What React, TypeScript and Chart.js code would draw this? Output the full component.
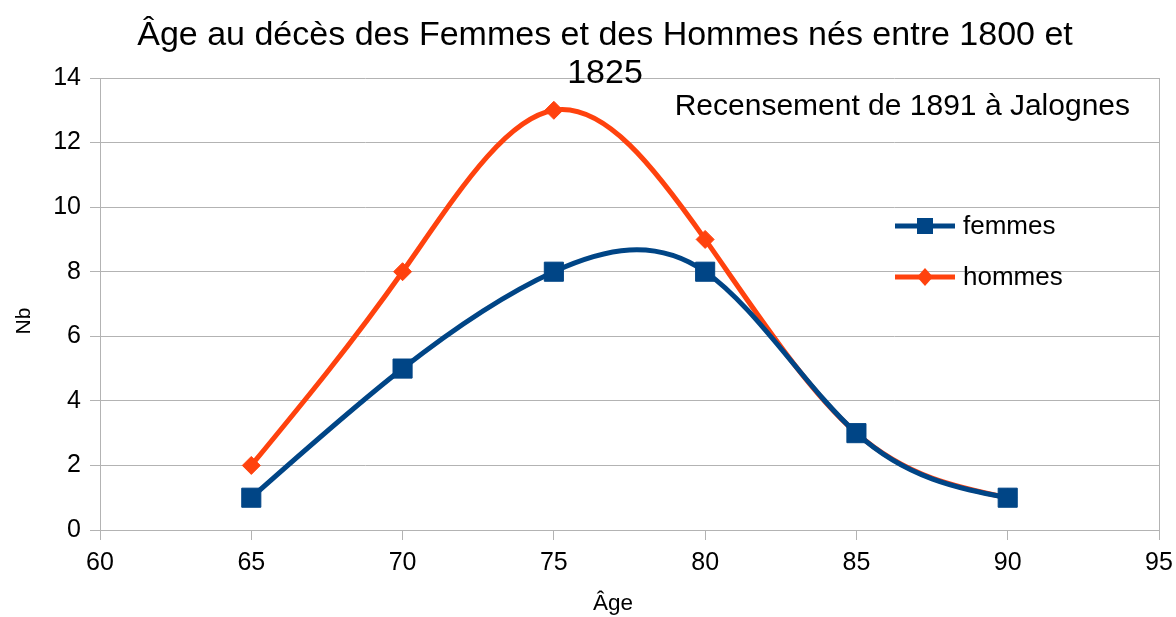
import React, { useEffect, useRef } from "react";
import { Chart, registerables } from "chart.js";

Chart.register(...registerables);

const ages = [65, 70, 75, 80, 85, 90];
const femmes = [1, 5, 8, 8, 3, 1];
const hommes = [2, 8, 13, 9, 3, 1];
const seriesNames = ["femmes", "hommes"];
const titleLines = ["Âge au décès des Femmes et des Hommes nés entre 1800 et", "1825"];
const subtitle = "Recensement de 1891 à Jalognes";
const xTitle = "Âge";
const yTitle = "Nb";
const xMin = 60;
const xMax = 95;
const xStep = 5;
const yMin = 0;
const yMax = 14;
const yStep = 2;

const FONT = '"Liberation Sans", Arial, sans-serif';
const BLUE = "#004586";
const ORANGE = "#ff420e";
const GRID = "#b3b3b3";

// Natural cubic spline (like the office-suite "cubic spline" smoothing),
// computed from the pixel positions that the chart's scales give to the points.
const splinePlugin = {
  id: "naturalSpline",
  beforeDatasetDraw(chart: any, args: any) {
    const meta = chart.getDatasetMeta(args.index);
    const line = meta.dataset;
    const pts = meta.data;
    const n = pts.length;
    if (!line || n < 3) return;
    const xs = pts.map((p: any) => p.x);
    const ys = pts.map((p: any) => p.y);
    const h: number[] = [];
    for (let i = 0; i < n - 1; i++) h[i] = xs[i + 1] - xs[i];
    const a: number[] = [];
    const b: number[] = [];
    const c: number[] = [];
    const d: number[] = [];
    for (let i = 1; i < n - 1; i++) {
      a.push(h[i - 1]);
      b.push(2 * (h[i - 1] + h[i]));
      c.push(h[i]);
      d.push(6 * ((ys[i + 1] - ys[i]) / h[i] - (ys[i] - ys[i - 1]) / h[i - 1]));
    }
    const m = n - 2;
    for (let i = 1; i < m; i++) {
      const w = a[i] / b[i - 1];
      b[i] -= w * c[i - 1];
      d[i] -= w * d[i - 1];
    }
    const M = new Array(n).fill(0);
    for (let i = m - 1; i >= 0; i--) {
      M[i + 1] = (d[i] - (i < m - 1 ? c[i] * M[i + 2] : 0)) / b[i];
    }
    for (let i = 0; i < n - 1; i++) {
      const s = (ys[i + 1] - ys[i]) / h[i];
      const dL = s - (h[i] * (2 * M[i] + M[i + 1])) / 6;
      const dR = s + (h[i] * (M[i] + 2 * M[i + 1])) / 6;
      pts[i].cp2x = xs[i] + h[i] / 3;
      pts[i].cp2y = ys[i] + (dL * h[i]) / 3;
      pts[i + 1].cp1x = xs[i + 1] - h[i] / 3;
      pts[i + 1].cp1y = ys[i + 1] - (dR * h[i]) / 3;
    }
    pts[0].cp1x = xs[0];
    pts[0].cp1y = ys[0];
    pts[n - 1].cp2x = xs[n - 1];
    pts[n - 1].cp2y = ys[n - 1];
    line._pointsUpdated = true;
    line._path = undefined;
  },
};

const overlayPlugin = {
  id: "overlay",
  afterDraw(chart: any) {
    const ctx = chart.ctx as CanvasRenderingContext2D;
    ctx.save();
    ctx.fillStyle = "#000";
    ctx.textAlign = "center";
    ctx.textBaseline = "alphabetic";
    ctx.font = `34px ${FONT}`;
    ctx.fillText(titleLines[0], 605, 45);
    ctx.fillText(titleLines[1], 605, 83);

    ctx.font = `30px ${FONT}`;
    ctx.textAlign = "right";
    ctx.fillText(subtitle, 1130, 115);

    // axis titles
    ctx.textAlign = "center";
    ctx.font = `22.5px ${FONT}`;
    ctx.fillText(xTitle, 613, 610);
    ctx.save();
    ctx.translate(30, 321);
    ctx.rotate(-Math.PI / 2);
    ctx.font = `21px ${FONT}`;
    ctx.fillText(yTitle, 0, 0);
    ctx.restore();

    // legend
    const items = [
      { name: seriesNames[0], color: BLUE, y: 226, style: "rect" },
      { name: seriesNames[1], color: ORANGE, y: 277, style: "diamond" },
    ];
    ctx.textAlign = "left";
    ctx.textBaseline = "middle";
    ctx.font = `26px ${FONT}`;
    for (const it of items) {
      ctx.strokeStyle = it.color;
      ctx.fillStyle = it.color;
      ctx.lineWidth = 5;
      ctx.beginPath();
      ctx.moveTo(895, it.y);
      ctx.lineTo(955, it.y);
      ctx.stroke();
      ctx.beginPath();
      if (it.style === "rect") {
        ctx.rect(917, it.y - 8, 16, 16);
      } else {
        ctx.moveTo(925, it.y - 9);
        ctx.lineTo(933, it.y);
        ctx.lineTo(925, it.y + 9);
        ctx.lineTo(917, it.y);
        ctx.closePath();
      }
      ctx.fill();
      ctx.fillStyle = "#000";
      ctx.fillText(it.name, 963, it.y + 1);
    }
    ctx.restore();
  },
};

export default function App() {
  const ref = useRef<HTMLCanvasElement | null>(null);
  useEffect(() => {
    document.body.style.margin = "0";
    const canvas = ref.current;
    if (!canvas) return;
    const chart = new Chart(canvas, {
      type: "line",
      data: {
        datasets: [
          {
            label: seriesNames[0],
            data: ages.map((a, i) => ({ x: a, y: femmes[i] })),
            borderColor: BLUE,
            backgroundColor: BLUE,
            borderWidth: 5,
            tension: 0.4,
            pointStyle: "rect",
            pointRadius: 13.5,
            pointBorderWidth: 1,
            pointBorderColor: BLUE,
            pointBackgroundColor: BLUE,
            borderJoinStyle: "round",
            borderCapStyle: "round",
          },
          {
            label: seriesNames[1],
            data: ages.map((a, i) => ({ x: a, y: hommes[i] })),
            borderColor: ORANGE,
            backgroundColor: ORANGE,
            borderWidth: 5,
            tension: 0.4,
            pointStyle: "rectRot",
            pointRadius: 9,
            pointBorderWidth: 1,
            pointBorderColor: ORANGE,
            pointBackgroundColor: ORANGE,
            borderJoinStyle: "round",
            borderCapStyle: "round",
          },
        ],
      },
      options: {
        animation: false,
        responsive: false,
        layout: { autoPadding: false, padding: { left: 0, right: 17, top: 78, bottom: 0 } },
        plugins: {
          legend: { display: false },
          title: { display: false },
          tooltip: { enabled: false },
        },
        scales: {
          x: {
            type: "linear",
            min: xMin,
            max: xMax,
            ticks: {
              stepSize: xStep,
              color: "#000",
              font: { size: 25, family: FONT },
              padding: 8,
              maxRotation: 0,
            },
            grid: {
              color: (c: any) =>
                c.tick && (c.tick.value === xMin || c.tick.value === xMax) ? GRID : "rgba(0,0,0,0)",
              tickColor: GRID,
              tickLength: 10,
              lineWidth: 1,
            },
            border: { color: GRID, width: 1 },
            title: { display: false },
            afterFit: (s: any) => {
              s.height = 87;
              s.paddingLeft = 0;
              s.paddingRight = 0;
            },
          },
          y: {
            type: "linear",
            min: yMin,
            max: yMax,
            ticks: {
              stepSize: yStep,
              color: "#000",
              font: { size: 25, family: FONT },
              padding: 9,
            },
            grid: {
              color: GRID,
              tickColor: GRID,
              tickLength: 10,
              lineWidth: 1,
            },
            border: { color: GRID, width: 1 },
            title: { display: false },
            afterFit: (s: any) => {
              s.width = 100;
            },
          },
        },
      },
      plugins: [splinePlugin, overlayPlugin],
    } as any);
    return () => chart.destroy();
  }, []);
  return (
    <div style={{ width: 1176, height: 617 }}>
      <canvas ref={ref} width={1176} height={617} />
    </div>
  );
}
